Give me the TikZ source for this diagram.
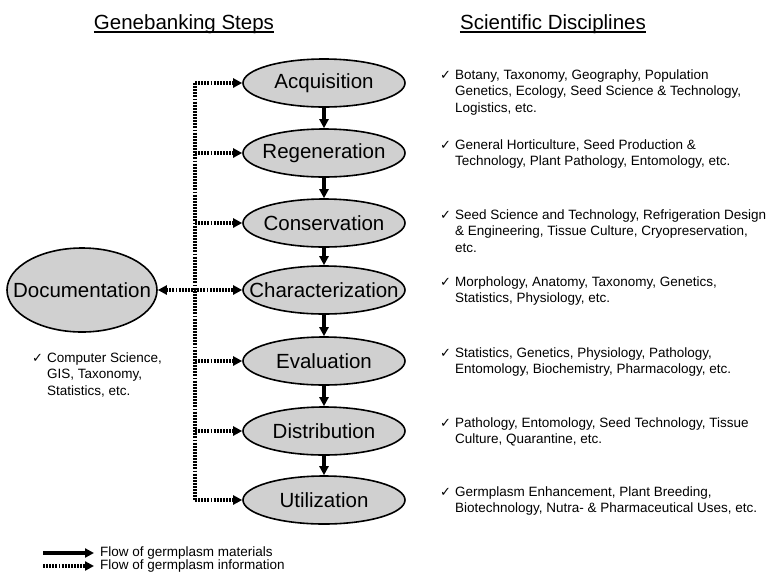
\documentclass[tikz,border=0pt]{standalone}
\usepackage{fontspec}
\setmainfont{Liberation Sans}
\newfontfamily\symfont{DejaVu Sans}
\usetikzlibrary{shapes.geometric,arrows.meta}

\definecolor{stepgray}{RGB}{208,208,208}
\newcommand{\chk}{{\symfont\fontsize{13}{13}\selectfont ✓}}
\newcommand{\disc}[1]{\begin{tabular}[t]{@{}l@{\hspace{4pt}}l@{}}\chk & \begin{tabular}[t]{@{}l@{}}#1\end{tabular}\end{tabular}}

\tikzset{
  stepnode/.style={ellipse, draw, line width=1.6pt, fill=stepgray,
    minimum width=162pt, minimum height=48pt, inner xsep=-30pt, inner ysep=0pt,
    font=\fontsize{20.5}{24}\selectfont},
  title/.style={font=\fontsize{20.5}{24}\selectfont, anchor=base, inner sep=0pt},
  disctext/.style={font=\fontsize{13.5}{16.5}\selectfont, anchor=base west, inner sep=0pt},
  tip/.style={-{Triangle[length=9pt,width=9pt]}},
  material/.style={line width=3.2pt, tip},
  info/.style={line width=3.2pt, dash pattern=on 1.9pt off 1.2pt},
}

\begin{document}
\begin{tikzpicture}[x=1pt,y=-1pt]
\useasboundingbox (0,0) rectangle (778,582);
%\draw[help lines] (0,0) grid[step=50] (778,582);

% headings
\node[title] (gbtitle) at (184,29) {Genebanking Steps};
\node[title] (sdtitle) at (553,29) {Scientific Disciplines};
\draw[line width=1.6pt] ([yshift=-3pt]gbtitle.base west) -- ([yshift=-3pt]gbtitle.base east);
\draw[line width=1.6pt] ([yshift=-3pt]sdtitle.base west) -- ([yshift=-3pt]sdtitle.base east);

% steps
\node[stepnode] (acq) at (324,83) {Acquisition};
\node[stepnode] (reg) at (324,153) {Regeneration};
\node[stepnode] (con) at (324,223) {Conservation};
\node[stepnode] (char) at (324,290) {Characterization};
\node[stepnode] (eval) at (324,361) {Evaluation};
\node[stepnode] (dist) at (324,431) {Distribution};
\node[stepnode] (util) at (324,500) {Utilization};
\node[stepnode, minimum width=150pt, minimum height=84pt] (doc) at (82,290) {Documentation};

\draw[material] (acq) -- (reg);
\draw[material] (reg) -- (con);
\draw[material] (con) -- (char);
\draw[material] (char) -- (eval);
\draw[material] (eval) -- (dist);
\draw[material] (dist) -- (util);

% information bus
\coordinate (bus) at (195,0);
\draw[info] (bus |- acq) -- (bus |- util);
\draw[info, tip] (bus |- acq) -- (acq.west);
\draw[info, tip] (bus |- reg) -- (reg.west);
\draw[info, tip] (bus |- con) -- (con.west);
\draw[info, tip] (bus |- eval) -- (eval.west);
\draw[info, tip] (bus |- dist) -- (dist.west);
\draw[info, tip] (bus |- util) -- (util.west);
\draw[info, {Triangle[length=9pt,width=9pt]}-{Triangle[length=9pt,width=9pt]}] (doc) -- (char);

% disciplines
\node[disctext] (acqd) at (440,79) {\disc{Botany, Taxonomy, Geography, Population\\Genetics, Ecology, Seed Science \& Technology,\\Logistics, etc.}};
\node[disctext] (regd) at (440,149) {\disc{General Horticulture, Seed Production \&\\Technology, Plant Pathology, Entomology, etc.}};
\node[disctext] (cond) at (440,219) {\disc{Seed Science and Technology, Refrigeration Design\\\& Engineering, Tissue Culture, Cryopreservation,\\etc.}};
\node[disctext] (chard) at (440,286) {\disc{Morphology, Anatomy, Taxonomy, Genetics,\\Statistics, Physiology, etc.}};
\node[disctext] (evald) at (440,357) {\disc{Statistics, Genetics, Physiology, Pathology,\\Entomology, Biochemistry, Pharmacology, etc.}};
\node[disctext] (distd) at (440,427) {\disc{Pathology, Entomology, Seed Technology, Tissue\\Culture, Quarantine, etc.}};
\node[disctext] (utild) at (440,496) {\disc{Germplasm Enhancement, Plant Breeding,\\Biotechnology, Nutra- \& Pharmaceutical Uses, etc.}};
\node[disctext] (docd) at (32,362) {\disc{Computer Science,\\GIS, Taxonomy,\\Statistics, etc.}};

% legend
\coordinate (mata) at (43,553);
\coordinate (infa) at (43,566);
\node[disctext, anchor=west, inner xsep=6pt] (matl) at (94,553) {Flow of germplasm materials};
\node[disctext, anchor=west, inner xsep=6pt] (infl) at (94,566) {Flow of germplasm information};
\draw[material] (mata) -- (matl);
\draw[info, tip] (infa) -- (infl);
\end{tikzpicture}
\end{document}
